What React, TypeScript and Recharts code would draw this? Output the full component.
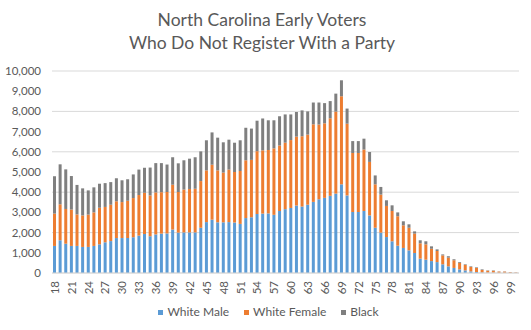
import { Bar, BarChart, CartesianGrid, XAxis, YAxis } from 'recharts';

// ages on the horizontal axis
const ages = [
  18, 19, 20, 21, 22, 23, 24, 25, 26, 27, 28, 29, 30, 31, 32, 33, 34, 35, 36, 37,
  38, 39, 40, 41, 42, 43, 44, 45, 46, 47, 48, 49, 50, 51, 52, 53, 54, 55, 56, 57,
  58, 59, 60, 61, 62, 63, 64, 65, 66, 67, 68, 69, 70, 71, 72, 73, 74, 75, 76, 77,
  78, 79, 80, 81, 82, 83, 84, 85, 86, 87, 88, 89, 90, 91, 92, 93, 94, 95, 96, 97,
  98, 99, 100,
];

const whiteMale = [
  1340, 1620, 1450, 1340, 1340, 1290, 1290, 1340, 1420, 1520, 1580, 1730, 1730, 1730, 1770, 1850, 1930, 1820, 1910, 1950,
  1960, 2150, 2000, 2010, 2010, 2010, 2240, 2520, 2640, 2510, 2510, 2520, 2500, 2430, 2720, 2760, 2920, 2940, 2950, 2880,
  3070, 3160, 3220, 3340, 3290, 3380, 3520, 3650, 3720, 3820, 3930, 4390, 3840, 3020, 3020, 3070, 2850, 2240, 2000, 1780,
  1570, 1350, 1240, 1120, 990, 710, 660, 590, 540, 430, 330, 250, 180, 130, 80, 50, 30, 20, 20, 10,
  10, 10, 5,
];

const whiteFemale = [
  1600, 1780, 1720, 1800, 1560, 1560, 1600, 1660, 1810, 1750, 1800, 1820, 1780, 1850, 1940, 2010, 2040, 2020, 2080, 2050,
  2050, 2220, 2010, 2120, 2150, 2160, 2310, 2560, 2720, 2570, 2460, 2600, 2500, 2620, 2860, 2840, 3110, 3130, 3140, 3290,
  3240, 3290, 3360, 3410, 3480, 3470, 3840, 3700, 3690, 3840, 4060, 4360, 3550, 2920, 2920, 3040, 2650, 2150, 1880, 1540,
  1500, 1460, 1120, 1120, 960, 760, 760, 610, 550, 440, 430, 380, 320, 270, 220, 200, 120, 90, 90, 60,
  60, 35, 20,
];

const black = [
  1850, 1980, 1960, 1660, 1460, 1340, 1200, 1240, 1190, 1180, 1120, 1140, 1080, 1060, 1170, 1260, 1240, 1380, 1450, 1440,
  1360, 1360, 1420, 1450, 1500, 1560, 1470, 1490, 1600, 1620, 1500, 1480, 1450, 1520, 1610, 1550, 1510, 1580, 1470, 1390,
  1450, 1400, 1270, 1220, 1280, 1150, 1080, 1090, 1000, 850, 890, 790, 750, 590, 590, 540, 490, 440, 380, 280,
  280, 190, 200, 170, 110, 150, 150, 120, 80, 50, 70, 50, 40, 30, 30, 30, 30, 20, 20, 10,
  10, 5, 5,
];

const yTicks = [0, 1000, 2000, 3000, 4000, 5000, 6000, 7000, 8000, 9000, 10000];

const seriesNames = ['White Male', 'White Female', 'Black'];
const colors = ['#5B9BD5', '#ED7D31', '#7F7F7F'];

const data = ages.map((age, i) => ({
  age,
  male: whiteMale[i],
  female: whiteFemale[i],
  black: black[i],
}));

const font = 'Lato, "Open Sans", sans-serif';
const textColor = '#595959';

const AgeTick = (props: any) => {
  const { x, y, payload } = props;
  return (
    <g transform={`translate(${x},${y})`}>
      <text transform="rotate(-90)" textAnchor="end" dy="0.35em" fill={textColor} fontSize={11.5} fontFamily={font}>
        {payload.value}
      </text>
    </g>
  );
};

export default function App() {
  return (
    <div style={{ position: 'absolute', top: 0, left: 0, width: 531, height: 330, background: '#fff', fontFamily: font }}>
      <div
        style={{
          position: 'absolute',
          top: 8,
          left: 0,
          width: 524,
          textAlign: 'center',
          fontSize: 17.5,
          lineHeight: '23px',
          color: textColor,
        }}
      >
        North Carolina Early Voters
        <br />
        Who Do Not Register With a Party
      </div>
      <BarChart width={531} height={330} data={data} margin={{ top: 71, right: 12, left: 0, bottom: 0 }}>
        <CartesianGrid vertical={false} stroke="#D9D9D9" />
        <XAxis
          dataKey="age"
          interval={2}
          tick={<AgeTick />}
          tickLine={false}
          tickSize={4}
          tickMargin={4}
          axisLine={{ stroke: '#D9D9D9' }}
          height={57}
        />
        <YAxis
          width={52}
          domain={[0, 10000]}
          ticks={yTicks}
          tickFormatter={(v: number) => v.toLocaleString('en-US')}
          tickLine={false}
          axisLine={false}
          tickSize={5}
          tickMargin={6}
          tick={{ fill: textColor, fontSize: 11.5, fontFamily: font }}
        />
        <Bar dataKey="male" name={seriesNames[0]} stackId="a" fill={colors[0]} barSize={3} isAnimationActive={false} />
        <Bar dataKey="female" name={seriesNames[1]} stackId="a" fill={colors[1]} barSize={3} isAnimationActive={false} />
        <Bar dataKey="black" name={seriesNames[2]} stackId="a" fill={colors[2]} barSize={3} isAnimationActive={false} />
      </BarChart>
      <div
        style={{
          position: 'absolute',
          top: 304,
          left: 0,
          width: 537,
          display: 'flex',
          justifyContent: 'center',
          gap: 15,
          fontSize: 12,
          color: textColor,
          lineHeight: '16px',
        }}
      >
        {seriesNames.map((name, i) => (
          <span key={name} style={{ display: 'flex', alignItems: 'center' }}>
            <span style={{ width: 5, height: 5, background: colors[i], marginRight: 4, display: 'inline-block' }} />
            {name}
          </span>
        ))}
      </div>
    </div>
  );
}
